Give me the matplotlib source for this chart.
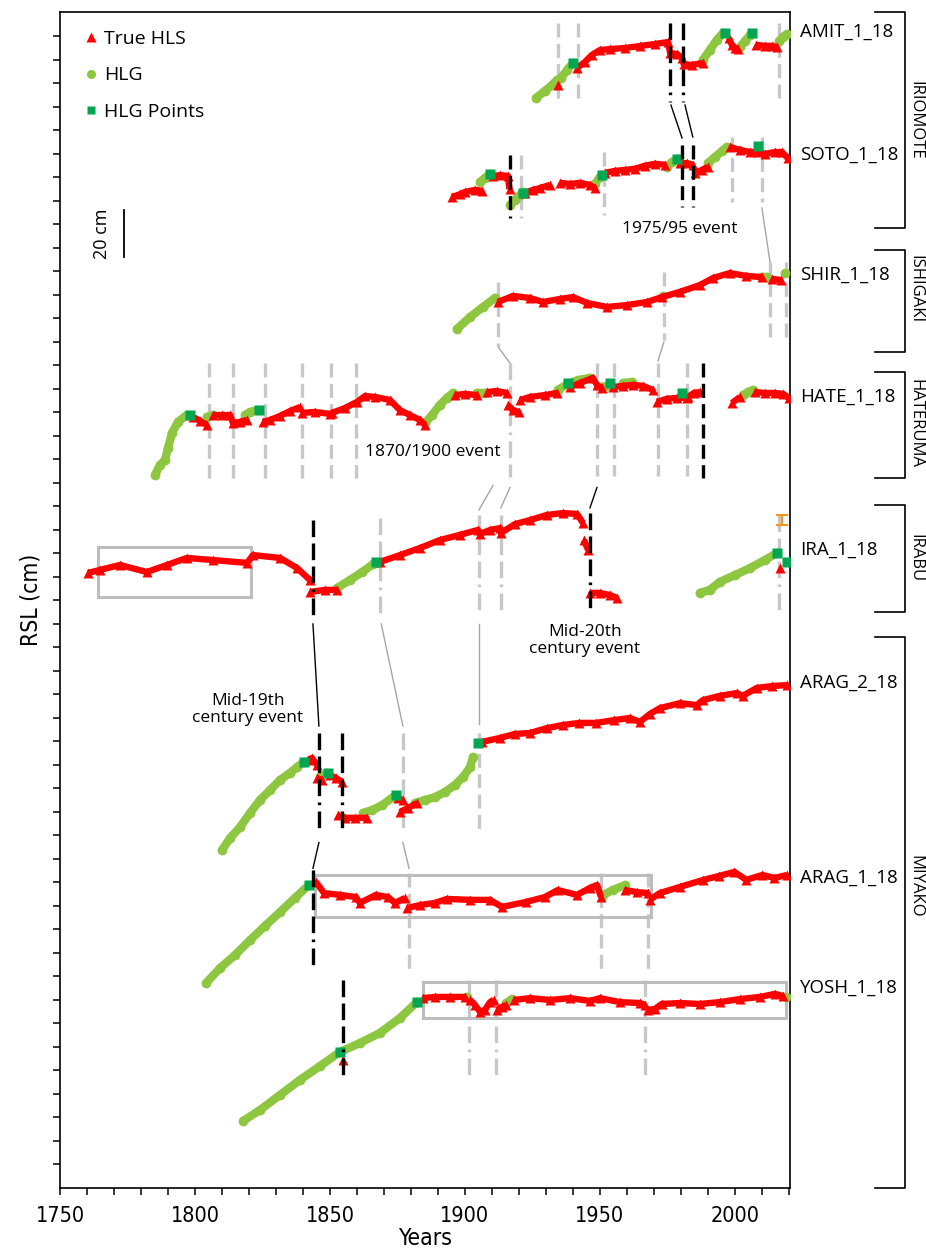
import matplotlib
matplotlib.use('Agg')
import matplotlib.pyplot as plt
from matplotlib import font_manager
from matplotlib.font_manager import FontProperties
from matplotlib.lines import Line2D
from matplotlib.patches import Rectangle
import matplotlib.transforms as mtransforms
import numpy as np

names = {f.name for f in font_manager.fontManager.ttflist}
TXT = 'Open Sans' if 'Open Sans' in names else 'DejaVu Sans'
cond_path = None
for f in font_manager.fontManager.ttflist:
    base = f.fname.split('/')[-1]
    if base in ('LiberationSansNarrow-Regular.ttf', 'DejaVuSansCondensed.ttf'):
        cond_path = f.fname
        if base.startswith('Liberation'):
            break


def cond_font(size):
    if cond_path:
        return FontProperties(fname=cond_path, size=size)
    return FontProperties(family='DejaVu Sans', stretch='condensed', size=size)


# ---------------- data (years, stacked RSL in cm) ----------------
AMIT_HLS_YR = [[1934.4], [1941.5, 1944.4, 1947.0, 1950.0, 1953.7, 1959.3, 1964.8, 1970.4, 1975.2, 1976.0, 1978.5, 1980.4, 1981.0, 1984.0, 1988.0], [1997.8, 1998.9, 2000.0, 2001.1], [2007.8, 2011.1, 2013.7, 2015.6]]
AMIT_HLS_CM = [[469.3], [476.6, 479.1, 482.1, 484.2, 484.6, 485.1, 485.9, 486.8, 487.6, 483.0, 482.5, 481.0, 478.3, 477.8, 478.7], [489.3, 486.3, 485.1, 484.6], [486.4, 486.0, 486.0, 485.5]]
AMIT_HLG_YR = [[1926.3, 1929.6, 1932.2, 1934.1, 1935.6, 1937.8, 1940.0], [1988.1, 1990.7, 1993.3, 1995.6], [2001.9, 2003.7, 2005.6], [2016.3, 2017.8, 2019.3]]
AMIT_HLG_CM = [[463.8, 466.8, 469.3, 471.5, 472.3, 475.7, 478.7], [480.0, 484.2, 488.5, 491.5], [485.5, 488.0, 490.6], [488.0, 489.8, 491.0]]
AMIT_PTS_YR = [1940.0, 1996.3, 2006.3]
AMIT_PTS_CM = [478.7, 491.5, 491.5]

SOTO_HLS_YR = [[1895.2, 1898.0, 1900.0, 1903.7, 1906.3], [1910.4, 1913.0, 1915.9, 1916.5], [1922.2, 1925.2, 1927.8, 1931.5], [1935.2, 1938.9, 1942.6, 1946.3, 1948.1], [1951.9, 1955.6, 1959.3, 1963.0, 1966.7, 1970.4, 1974.1], [1979.6, 1982.2, 1984.4], [1985.2, 1987.8, 1990.0], [1998.1, 2001.9, 2005.6, 2008.5, 2011.1, 2014.8, 2017.4, 2019.6]]
SOTO_HLS_CM = [[421.7, 422.8, 423.8, 424.7, 424.3], [430.6, 431.0, 430.6, 425.0], [423.4, 424.7, 425.5, 426.8], [427.7, 427.2, 427.7, 426.8, 425.5], [432.0, 432.8, 433.2, 433.7, 435.0, 435.8, 435.4], [436.1, 436.1, 435.4], [432.0, 433.2, 434.5], [443.0, 441.7, 440.8, 440.8, 440.0, 440.8, 440.8, 438.2]]
SOTO_HLG_YR = [[1905.6, 1907.4, 1909.3], [1916.7, 1918.5, 1920.4, 1921.5], [1948.1, 1950.0, 1950.7], [1974.8, 1976.7, 1978.5], [1990.0, 1992.6, 1995.2, 1997.0]]
SOTO_HLG_CM = [[428.1, 429.8, 431.5], [418.3, 420.4, 422.5, 423.8], [427.2, 430.2, 431.1], [434.5, 436.6, 437.8], [436.1, 438.7, 441.2, 443.0]]
SOTO_PTS_YR = [1909.3, 1921.5, 1950.7, 1978.5, 2008.5]
SOTO_PTS_CM = [431.5, 423.4, 431.1, 437.8, 443.3]

SHIR_HLS_YR = [[1912.2, 1917.8, 1924.1, 1928.9, 1935.2, 1940.0, 1945.2, 1952.6, 1960.0, 1967.4, 1973.0, 1979.6, 1987.0, 1991.9, 1998.1, 2004.2, 2010.2], [2013.7, 2017.0]]
SHIR_HLS_CM = [[377.0, 379.6, 378.7, 377.0, 378.3, 379.1, 376.6, 374.9, 375.7, 377.0, 379.1, 381.3, 384.2, 387.2, 389.3, 388.1, 387.6], [386.8, 386.4]]
SHIR_HLG_YR = [[1897.0, 1901.9, 1906.7, 1911.1], [1973.5], [2010.2, 2012.0], [2018.5]]
SHIR_HLG_CM = [[365.5, 370.6, 374.9, 378.7], [379.5], [387.6, 387.6], [389.3]]
SHIR_PTS_YR = []
SHIR_PTS_CM = []

HATE_HLS_YR = [[1799.3, 1801.9, 1804.4], [1806.7, 1810.0, 1813.0, 1814.1, 1816.7, 1819.3], [1825.2, 1827.8, 1831.5, 1835.2, 1838.9], [1839.6, 1844.4, 1850.0], [1850.7, 1855.6, 1860.0, 1863.0, 1866.7, 1872.2, 1875.9, 1879.6, 1883.3, 1885.2], [1896.3, 1900.0, 1904.4], [1908.1, 1911.9, 1915.6], [1915.9, 1917.8, 1920.0], [1920.4, 1924.1, 1929.6, 1934.1], [1938.9, 1942.6, 1947.4, 1948.9, 1950.7], [1954.8, 1958.5, 1962.2, 1966.0, 1969.6], [1971.1, 1974.8, 1978.5, 1982.2], [1982.6, 1984.8, 1987.0], [1998.9, 2001.9], [2007.4, 2011.1, 2014.8, 2017.8, 2020.0]]
HATE_HLS_CM = [[328.1, 326.4, 324.7], [328.9, 328.9, 328.9, 325.5, 326.0, 326.8], [326.0, 326.8, 328.5, 330.6, 332.3], [329.8, 330.2, 329.4], [329.8, 331.9, 334.5, 337.0, 336.6, 335.3, 331.0, 328.9, 326.8, 324.7], [337.4, 337.9, 337.4], [338.7, 339.1, 338.3], [333.2, 331.0, 330.2], [335.3, 336.6, 337.4, 338.3], [340.8, 342.5, 344.7, 341.7, 340.4], [340.8, 341.3, 341.7, 341.3, 339.6], [334.5, 335.8, 336.2, 336.2], [336.6, 338.3, 338.7], [334.0, 336.6], [338.7, 338.3, 338.3, 337.9, 336.2]]
HATE_HLG_YR = [[1785.2, 1787.0, 1788.9, 1790.0, 1791.5, 1793.7, 1797.0], [1804.4, 1806.7], [1818.5, 1820.4, 1823.0], [1885.2, 1887.8, 1890.7, 1893.3, 1895.6], [1904.4, 1907.4], [1934.4, 1938.1, 1941.9, 1946.3], [1950.7, 1952.6], [1958.5, 1961.9], [2003.0, 2004.8, 2006.7]]
HATE_HLG_CM = [[303.4, 307.6, 309.8, 314.9, 321.3, 326.0, 328.9], [328.1, 328.9], [328.9, 330.2, 331.0], [325.5, 328.9, 333.2, 336.2, 338.3], [338.3, 338.3], [339.6, 342.1, 343.8, 344.7], [340.8, 341.3], [342.5, 343.0], [337.4, 338.7, 339.6]]
HATE_PTS_YR = [1798.1, 1823.7, 1938.1, 1953.7, 1980.4]
HATE_PTS_CM = [328.9, 331.0, 342.5, 342.5, 338.3]

IRA_HLS_YR = [[1760.4, 1764.8, 1772.2, 1782.2, 1789.6, 1797.0, 1806.7, 1819.3, 1821.5, 1831.5, 1837.8, 1842.6], [1842.6, 1848.1, 1852.6], [1868.5, 1875.9, 1883.3, 1890.7, 1898.1, 1904.8, 1905.6, 1909.3, 1913.0, 1913.3, 1918.5, 1924.1, 1930.4, 1936.3, 1941.5, 1943.7], [1944.1, 1945.6], [1946.3, 1950.0, 1953.7, 1956.3], [2016.7]]
IRA_HLS_CM = [[261.7, 263.0, 265.1, 262.1, 265.1, 268.1, 267.2, 266.0, 269.3, 268.1, 263.8, 258.7], [253.6, 254.5, 254.5], [266.4, 269.3, 272.3, 275.7, 277.9, 280.0, 278.3, 280.0, 280.8, 278.7, 282.5, 284.2, 286.4, 287.2, 286.8, 283.0], [275.7, 271.5], [253.2, 253.2, 252.3, 251.1], [263.8]]
IRA_HLG_YR = [[1852.6, 1857.4, 1861.9, 1866.0], [1987.0, 1990.7, 1994.4, 2000.0, 2005.6, 2011.1, 2015.6]]
IRA_HLG_CM = [[255.3, 258.7, 262.1, 265.5], [253.2, 254.5, 257.9, 260.8, 263.8, 267.2, 270.2]]
IRA_PTS_YR = [1867.0, 2015.6, 2019.3]
IRA_PTS_CM = [266.4, 270.2, 266.4]
IRA_ERR_YR = [2017.5]
IRA_ERR_CM = [284.2]
IRA_ERR_HALF = [2.1]

ARAG2_HLS_YR = [[1841.9, 1843.3, 1845.2], [1845.2, 1847.0], [1850.0, 1852.2, 1854.4], [1852.9, 1855.6, 1859.3, 1863.7], [1875.2, 1877.0], [1875.9, 1878.9, 1882.2], [1906.3, 1913.0, 1918.5, 1924.1, 1930.4, 1936.3, 1942.4, 1948.7, 1955.3, 1961.1, 1964.8, 1968.5, 1972.2, 1979.6, 1985.9, 1988.1, 1994.4, 2000.7, 2002.9, 2008.1, 2013.9, 2019.3]]
ARAG2_HLS_CM = [[182.1, 183.0, 180.0], [174.5, 173.6], [175.7, 174.5, 172.8], [158.7, 157.5, 157.5, 157.5], [165.9, 165.1], [160.0, 161.7, 163.8], [189.8, 191.5, 193.2, 193.6, 195.7, 197.0, 197.9, 197.9, 199.1, 200.0, 198.3, 201.7, 204.2, 206.3, 205.5, 207.6, 209.4, 210.6, 209.4, 212.8, 213.6, 214.0]]
ARAG2_HLG_YR = [[1810.0, 1813.0, 1816.7, 1820.4, 1824.1, 1827.8, 1831.5, 1835.2, 1837.8, 1840.4], [1846.3, 1848.9], [1862.2, 1865.6, 1869.3, 1873.3], [1881.5, 1885.2, 1888.9, 1892.6, 1896.3, 1899.3, 1901.9, 1903.0]]
ARAG2_HLG_CM = [[143.8, 148.9, 153.6, 159.6, 165.1, 169.3, 173.6, 176.6, 179.1, 181.3], [174.9, 176.6], [159.6, 160.8, 162.9, 166.3], [163.8, 165.1, 166.3, 168.5, 171.5, 174.9, 179.1, 183.4]]
ARAG2_PTS_YR = [1840.4, 1849.3, 1874.4, 1904.8]
ARAG2_PTS_CM = [181.3, 176.6, 167.2, 189.4]

ARAG1_HLS_YR = [[1844.8, 1847.8, 1853.7, 1859.6, 1861.1, 1867.0, 1871.5, 1874.1, 1877.8], [1878.5, 1883.3, 1888.9, 1893.3, 1901.9, 1909.3, 1913.7, 1922.6, 1929.6, 1934.4, 1941.5, 1946.3, 1948.9, 1950.4], [1959.3, 1963.7, 1967.8], [1968.5, 1972.2, 1979.6, 1988.3, 1994.2, 1999.8, 2004.2, 2010.2, 2014.6, 2019.3]]
ARAG1_HLS_CM = [[130.2, 125.5, 124.7, 123.8, 121.3, 124.7, 123.8, 121.3, 123.4], [119.1, 120.4, 121.3, 123.0, 122.6, 122.6, 119.6, 121.7, 123.8, 126.8, 124.7, 127.7, 128.9, 123.8], [126.8, 125.9, 125.5], [122.6, 125.5, 128.1, 131.1, 132.8, 134.5, 131.1, 133.2, 131.9, 133.2]]
ARAG1_HLG_YR = [[1804.1, 1809.3, 1814.8, 1820.4, 1825.9, 1831.5, 1837.0, 1842.2], [1951.1, 1954.8, 1959.3]]
ARAG1_HLG_CM = [[87.2, 93.6, 99.1, 105.5, 111.5, 117.4, 123.4, 128.9], [124.7, 126.8, 128.9]]
ARAG1_PTS_YR = [1842.2]
ARAG1_PTS_CM = [128.9]

YOSH_HLS_YR = [[1855.0], [1884.4, 1888.9, 1894.4, 1900.0], [1901.9, 1903.7, 1905.6, 1907.4, 1909.3, 1910.7], [1911.9, 1913.7, 1915.2], [1918.1, 1924.1, 1931.5, 1938.9, 1946.3, 1950.0, 1957.4, 1964.8, 1966.7], [1967.8, 1970.4, 1972.9, 1979.6, 1987.0, 1994.4, 2001.9, 2009.3, 2014.8, 2017.8]]
YOSH_HLS_CM = [[54.5], [80.8, 81.3, 81.3, 81.3], [80.0, 77.9, 74.9, 75.8, 79.1, 80.0], [75.8, 77.0, 77.9], [80.0, 80.8, 80.0, 80.8, 79.6, 80.8, 79.1, 78.7, 77.9], [75.8, 76.2, 78.3, 78.7, 78.3, 79.1, 80.4, 81.3, 82.6, 81.7]]
YOSH_HLG_YR = [[1817.8, 1824.1, 1831.5, 1838.9, 1846.3, 1853.7, 1861.1, 1868.5, 1875.9, 1882.2], [1900.7], [1915.2, 1917.4], [2018.9]]
YOSH_HLG_CM = [[28.5, 33.2, 39.6, 46.0, 51.9, 57.9, 61.7, 66.0, 72.3, 79.1], [81.3], [78.7, 80.4], [81.3]]
YOSH_PTS_YR = [1853.7, 1882.2]
YOSH_PTS_CM = [57.9, 79.1]

SERIES_NAMES = ['AMIT_1_18', 'SOTO_1_18', 'SHIR_1_18', 'HATE_1_18', 'IRA_1_18', 'ARAG_2_18', 'ARAG_1_18', 'YOSH_1_18']
SERIES_LABEL_CM = [491.9, 439.5, 388.5, 336.6, 271.5, 214.9, 131.9, 85.1]

GROUP_NAMES = ['IRIOMOTE', 'ISHIGAKI', 'HATERUMA', 'IRABU', 'MIYAKO']
GROUP_TOP_CM = [500.4, 399.1, 347.2, 290.6, 234.5]
GROUP_BOTTOM_CM = [408.5, 355.7, 302.1, 245.1, 0.0]
GROUP_LABEL_CM = [454.4, 382.5, 325.5, 268.1, 128.5]

EVENT_YR = [1934.4, 1941.9, 2016.3, 1976.0, 1980.7,
            1916.7, 1920.7, 1951.5, 1980.4, 1984.4, 1999.0, 2010.0,
            1912.2, 1973.7, 2013.0, 2018.9,
            1805.2, 1813.9, 1826.1, 1839.8, 1850.5, 1859.8, 1916.7, 1948.9, 1955.2, 1971.5, 1982.2, 1988.1,
            1843.7, 1868.5, 1905.2, 1913.3, 1946.3, 2016.3,
            1845.9, 1854.4, 1877.0, 1905.2,
            1843.7, 1879.3, 1950.4, 1967.8,
            1854.8, 1901.5, 1911.5, 1966.7]
EVENT_TOP = [495.7, 495.7, 495.7, 495.7, 495.7,
             439.5, 439.5, 440.8, 443.8, 443.8, 447.2, 447.2,
             385.5, 389.8, 394.0, 394.0,
             350.9, 350.9, 350.9, 350.9, 350.9, 350.9, 351.0, 351.0, 351.0, 351.0, 351.0, 351.0,
             284.2, 285.1, 286.4, 286.4, 287.2, 286.4,
             193.6, 193.6, 193.6, 193.6,
             135.3, 134.0, 134.0, 134.0,
             88.5, 88.5, 88.5, 88.5]
EVENT_BOTTOM = [462.1, 462.1, 462.1, 462.1, 462.1,
                412.8, 412.8, 414.0, 417.4, 417.4, 419.5, 419.5,
                357.8, 360.8, 360.8, 360.8,
                302.1, 302.1, 302.1, 302.1, 302.1, 302.1, 302.5, 303.0, 303.0, 303.0, 303.0, 302.1,
                242.5, 242.5, 243.8, 243.8, 244.7, 245.0,
                151.1, 151.1, 151.1, 151.5,
                92.8, 91.5, 91.5, 91.5,
                46.8, 46.8, 46.8, 46.8]
EVENT_KIND = ['g', 'g', 'g', 'k', 'k',
              'k', 'g', 'g', 'k', 'k', 'g', 'g',
              'g', 'g', 'g', 'g',
              'g', 'g', 'g', 'g', 'g', 'g', 'g', 'g', 'g', 'g', 'g', 'k',
              'k', 'g', 'g', 'g', 'k', 'g',
              'k', 'k', 'g', 'g',
              'k', 'g', 'g', 'g',
              'k', 'g', 'g', 'g']
EVENT_DOT = [0, 0, 0, 1, 1,
             0, 0, 0, 0, 0, 0, 0,
             0, 0, 0, 0,
             0, 0, 0, 0, 0, 0, 1, 0, 0, 0, 0, 0,
             1, 1, 1, 1, 1, 1,
             1, 1, 1, 0,
             1, 0, 0, 0,
             1, 1, 1, 1]

LINK_X0 = [1976.3, 1981.5, 2010.0, 1912.5, 1973.7, 1910.4, 1916.7, 1948.9, 1843.7, 1869.0, 1905.2, 1845.9, 1877.0]
LINK_Y0 = [460.8, 460.8, 417.0, 357.5, 360.0, 299.0, 298.1, 298.1, 240.0, 240.0, 240.0, 147.0, 147.0]
LINK_X1 = [1980.4, 1984.4, 2013.0, 1916.7, 1971.5, 1905.2, 1913.3, 1946.3, 1845.9, 1877.0, 1905.2, 1843.7, 1879.3]
LINK_Y1 = [446.8, 447.2, 394.0, 351.0, 352.0, 288.5, 289.4, 289.4, 196.6, 196.6, 197.5, 136.0, 136.0]
LINK_KIND = ['k', 'k', 'g', 'g', 'g', 'g', 'g', 'k', 'k', 'g', 'g', 'k', 'g']

BOX_X0 = [1764.1, 1844.4, 1884.4]
BOX_X1 = [1820.7, 1968.9, 2018.9]
BOX_Y0 = [251.5, 115.3, 72.3]
BOX_Y1 = [272.8, 133.2, 87.7]

EVENT_TEXT = ['1975/95 event', '1870/1900 event', 'Mid-20th\ncentury event', 'Mid-19th\ncentury event']
EVENT_TEXT_YR = [1979.6, 1888.1, 1944.4, 1819.6]
EVENT_TEXT_CM = [408.1, 313.2, 232.8, 203.7]

SCALE_BAR_YR = 1773.7
SCALE_BAR_CM = [396.2, 416.2]

X_MAJOR = [1750, 1800, 1850, 1900, 1950, 2000]

# ---------------- styling ----------------
RED = '#ff0000'
GREEN_LT = '#8dc63f'
GREEN_DK = '#00a651'
GRAY = '#c8c8c8'
LINK_GRAY = '#a6a6a6'
BOX_GRAY = '#bdbdbd'
ORANGE = '#f7941d'

fig = plt.figure(figsize=(9.26, 12.48), dpi=100)
ax = fig.add_axes([60 / 926, 60 / 1248, 730 / 926, 1176 / 1248])
ax.set_xlim(1750, 2020.4)
ax.set_ylim(0, 500.4)

for s in ax.spines.values():
    s.set_linewidth(1.2)
ax.set_xticks(X_MAJOR)
ax.set_xticks(np.arange(1760, 2021, 10), minor=True)
ax.set_yticks(np.arange(10, 500, 10))
ax.set_yticklabels([])
ax.tick_params(axis='x', which='both', direction='out', length=5, width=1.1, pad=8)
ax.tick_params(axis='y', which='both', direction='out', length=5, width=1.1)
ax.set_xticklabels([str(v) for v in X_MAJOR], fontproperties=cond_font(15.5))
ax.set_xlabel('Years', fontproperties=cond_font(16.5), labelpad=1)
ax.set_ylabel('RSL (cm)', fontproperties=cond_font(16.5), labelpad=4)

for x, t, b, k, d in zip(EVENT_YR, EVENT_TOP, EVENT_BOTTOM, EVENT_KIND, EVENT_DOT):
    if d:
        ls = (0, (5.0, 1.9, 5.0, 1.9, 5.0, 1.9, 0.8, 1.9))
    else:
        ls = (0, (4.2, 1.9))
    if k == 'k':
        ax.plot([x, x], [t, b], color='black', lw=2.4, ls=ls, zorder=7)
    else:
        ax.plot([x, x], [t, b], color=GRAY, lw=2.4, ls=ls, zorder=2)

for x0, y0, x1, y1, k in zip(LINK_X0, LINK_Y0, LINK_X1, LINK_Y1, LINK_KIND):
    ax.plot([x0, x1], [y0, y1], color='black' if k == 'k' else LINK_GRAY, lw=1.0, zorder=2)

for x0, x1, y0, y1 in zip(BOX_X0, BOX_X1, BOX_Y0, BOX_Y1):
    ax.add_patch(Rectangle((x0, y0), x1 - x0, y1 - y0, fill=False, ec=BOX_GRAY, lw=2.2, zorder=3))


def draw(hls_x, hls_y, hlg_x, hlg_y, pts_x, pts_y):
    for xs, ys in zip(hlg_x, hlg_y):
        ax.plot(xs, ys, color=GREEN_LT, lw=6, solid_capstyle='round', marker='o', ms=7,
                mec='none', zorder=4)
    for xs, ys in zip(hls_x, hls_y):
        ax.plot(xs, ys, color=RED, lw=4.6, solid_capstyle='butt', marker='^', ms=7.5,
                mec='none', zorder=5)
    if len(pts_x):
        ax.plot(pts_x, pts_y, ls='none', marker='s', ms=6.5, color=GREEN_DK, mec='none', zorder=6)


draw(AMIT_HLS_YR, AMIT_HLS_CM, AMIT_HLG_YR, AMIT_HLG_CM, AMIT_PTS_YR, AMIT_PTS_CM)
draw(SOTO_HLS_YR, SOTO_HLS_CM, SOTO_HLG_YR, SOTO_HLG_CM, SOTO_PTS_YR, SOTO_PTS_CM)
draw(SHIR_HLS_YR, SHIR_HLS_CM, SHIR_HLG_YR, SHIR_HLG_CM, SHIR_PTS_YR, SHIR_PTS_CM)
draw(HATE_HLS_YR, HATE_HLS_CM, HATE_HLG_YR, HATE_HLG_CM, HATE_PTS_YR, HATE_PTS_CM)
draw(IRA_HLS_YR, IRA_HLS_CM, IRA_HLG_YR, IRA_HLG_CM, IRA_PTS_YR, IRA_PTS_CM)
draw(ARAG2_HLS_YR, ARAG2_HLS_CM, ARAG2_HLG_YR, ARAG2_HLG_CM, ARAG2_PTS_YR, ARAG2_PTS_CM)
draw(ARAG1_HLS_YR, ARAG1_HLS_CM, ARAG1_HLG_YR, ARAG1_HLG_CM, ARAG1_PTS_YR, ARAG1_PTS_CM)
draw(YOSH_HLS_YR, YOSH_HLS_CM, YOSH_HLG_YR, YOSH_HLG_CM, YOSH_PTS_YR, YOSH_PTS_CM)

ax.errorbar(IRA_ERR_YR, IRA_ERR_CM, yerr=IRA_ERR_HALF, fmt='none', ecolor=ORANGE,
            elinewidth=1.5, capsize=4, capthick=1.5, zorder=6)

for t, x, y in zip(EVENT_TEXT, EVENT_TEXT_YR, EVENT_TEXT_CM):
    ax.text(x, y, t, ha='center', va='center', fontsize=12.5, family=TXT, linespacing=1.1, zorder=8)

ax.plot([SCALE_BAR_YR, SCALE_BAR_YR], SCALE_BAR_CM, color='black', lw=1.3)
ax.text(SCALE_BAR_YR - 8.0, np.mean(SCALE_BAR_CM), '20 cm', rotation=90, ha='center', va='center',
        fontsize=13, family=TXT)

trans = mtransforms.blended_transform_factory(ax.transAxes, ax.transData)
for name, y in zip(SERIES_NAMES, SERIES_LABEL_CM):
    ax.text(1.0137, y, name, transform=trans, ha='left', va='center', fontsize=13.5, family=TXT)

for name, top, bot, ly in zip(GROUP_NAMES, GROUP_TOP_CM, GROUP_BOTTOM_CM, GROUP_LABEL_CM):
    ax.plot([1.116, 1.1575, 1.1575, 1.116], [top, top, bot, bot], transform=trans,
            clip_on=False, color='black', lw=1.2)
    ax.text(1.1715, ly, name, transform=trans, rotation=270, ha='center',
            va='center', fontsize=12, family=TXT)

handles = [Line2D([], [], ls='none', marker='^', color=RED, ms=6.5, mec='none'),
           Line2D([], [], ls='none', marker='o', color=GREEN_LT, ms=6.5, mec='none'),
           Line2D([], [], ls='none', marker='s', color=GREEN_DK, ms=6, mec='none')]
leg = ax.legend(handles, ['True HLS', 'HLG', 'HLG Points'], loc='upper left',
                bbox_to_anchor=(0.012, 0.998), frameon=False, handlelength=0.7,
                handletextpad=0.3, labelspacing=0.95, borderaxespad=0.4,
                prop={'family': TXT, 'size': 14})

fig.savefig('out.png', dpi=100)
